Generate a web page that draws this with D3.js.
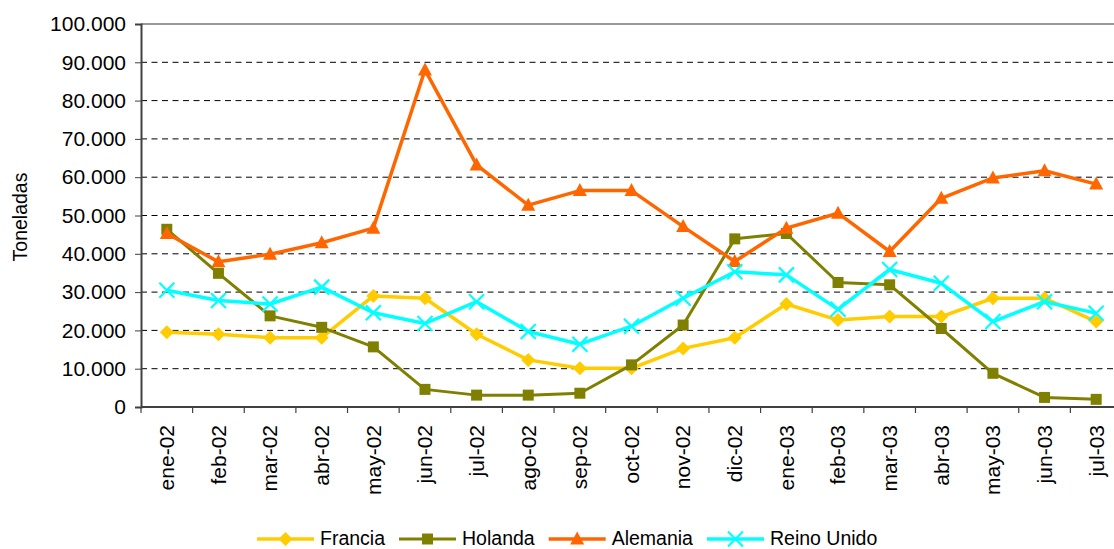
<!DOCTYPE html>
<html>
<head>
<meta charset="utf-8">
<script src="https://cdn.jsdelivr.net/npm/d3@7/dist/d3.min.js"></script>
<style>
  body { margin: 0; background: #fff; }
  svg { display: block; font-family: "Liberation Sans", Arial, sans-serif; }
</style>
</head>
<body>
<div id="chart"></div>
<script>
// data
var months = ["ene-02", "feb-02", "mar-02", "abr-02", "may-02", "jun-02", "jul-02", "ago-02", "sep-02", "oct-02",
              "nov-02", "dic-02", "ene-03", "feb-03", "mar-03", "abr-03", "may-03", "jun-03", "jul-03"];
var francia  = [19500, 19000, 18100, 18100, 29000, 28400, 19000, 12300, 10100, 10100, 15300, 18100, 26900, 22700, 23600, 23600, 28400, 28400, 22300];
var holanda  = [46400, 34900, 23800, 20800, 15700, 4600, 3100, 3100, 3600, 11000, 21400, 43900, 45300, 32500, 31900, 20500, 8800, 2500, 2000];
var alemania = [45300, 37900, 39900, 42900, 46700, 88000, 63200, 52700, 56500, 56500, 47100, 38000, 46700, 50600, 40600, 54500, 59800, 61700, 58200];
var reino    = [30500, 27800, 26900, 31300, 24600, 21800, 27500, 19700, 16400, 21100, 28400, 35300, 34500, 25500, 35900, 32300, 22300, 27500, 24500];
var yTicks = [0, 10000, 20000, 30000, 40000, 50000, 60000, 70000, 80000, 90000, 100000];

var series = [
    {name: "Francia", values: francia, color: "#FFCC00", marker: "diamond", width: 3.5},
    {name: "Holanda", values: holanda, color: "#808000", marker: "square", width: 3},
    {name: "Alemania", values: alemania, color: "#FF6600", marker: "triangle", width: 3.5},
    {name: "Reino Unido", values: reino, color: "#00FFFF", marker: "cross", width: 3.5}
];

var width = 1114,
    height = 549;
var plotLeft = 141, plotTop = 24, plotBottom = 407, plotRight = 1122;

var svg = d3.select("#chart").append("svg")
    .attr("width", width)
    .attr("height", height);

var locale = d3.formatLocale({decimal: ",", thousands: ".", grouping: [3], currency: ["", ""]});
var fmt = locale.format(",d");

var x = d3.scaleBand().domain(months).range([plotLeft, plotRight]);
var y = d3.scaleLinear().domain([0, 100000]).range([plotBottom, plotTop]);
var cx = function(i) { return x(months[i]) + x.bandwidth() / 2; };

// marker shapes
function markerPath(type) {
    if (type == "diamond") return "M0,-7L7,0L0,7L-7,0Z";
    if (type == "square") return "M-5.5,-5.5H5.5V5.5H-5.5Z";
    if (type == "triangle") return "M0,-7.5L7,5.5L-7,5.5Z";
    return "M-7.5,-7.5L7.5,7.5M-7.5,7.5L7.5,-7.5";
}
function drawMarker(g, s, px, py) {
    var p = g.append("path")
        .attr("d", markerPath(s.marker))
        .attr("transform", "translate(" + px + "," + py + ")");
    if (s.marker == "cross") {
        p.attr("fill", "none").attr("stroke", s.color).attr("stroke-width", 2.2);
    } else {
        p.attr("fill", s.color);
    }
}

// gridlines
svg.append("g")
    .selectAll("line")
    .data(yTicks.filter(function(d) { return d > 0 && d < 100000; }))
    .enter().append("line")
    .attr("x1", plotLeft).attr("x2", width)
    .attr("y1", function(d) { return y(d); })
    .attr("y2", function(d) { return y(d); })
    .attr("stroke", "#000")
    .attr("stroke-width", 1)
    .attr("stroke-dasharray", "6,4.5");

// top border
svg.append("line")
    .attr("x1", plotLeft).attr("x2", width)
    .attr("y1", y(100000)).attr("y2", y(100000))
    .attr("stroke", "#999").attr("stroke-width", 2);

// y axis
var yAxis = svg.append("g")
    .attr("transform", "translate(" + plotLeft + ",0)")
    .call(d3.axisLeft(y).tickValues(yTicks).tickSize(6).tickPadding(9).tickFormat(fmt));
yAxis.select(".domain").attr("stroke", "#404040").attr("stroke-width", 2);
yAxis.selectAll(".tick line").attr("stroke", "#404040");
yAxis.selectAll("text").attr("font-size", "21px").attr("fill", "#000")
    .style("font-family", "Liberation Sans, Arial, sans-serif");

// x axis
svg.append("line")
    .attr("x1", plotLeft).attr("x2", width)
    .attr("y1", plotBottom).attr("y2", plotBottom)
    .attr("stroke", "#404040").attr("stroke-width", 2);

svg.append("g")
    .selectAll("line")
    .data(months)
    .enter().append("line")
    .attr("x1", function(d) { return x(d); })
    .attr("x2", function(d) { return x(d); })
    .attr("y1", plotBottom).attr("y2", plotBottom + 6)
    .attr("stroke", "#404040").attr("stroke-width", 1.2);

svg.append("g")
    .selectAll("text")
    .data(months)
    .enter().append("text")
    .attr("transform", function(d) {
        return "translate(" + (x(d) + x.bandwidth() / 2) + "," + 425 + ") rotate(-90)";
    })
    .attr("dy", "0.35em")
    .attr("text-anchor", "end")
    .attr("font-size", "21px")
    .text(function(d) { return d; });

// y axis title
svg.append("text")
    .attr("transform", "translate(27," + 217 + ") rotate(-90)")
    .attr("text-anchor", "middle")
    .attr("font-size", "19.5px")
    .text("Toneladas");

// lines and markers
var line = d3.line()
    .x(function(d, i) { return cx(i); })
    .y(function(d) { return y(d); });

series.forEach(function(s) {
    var g = svg.append("g");
    g.append("path")
        .datum(s.values)
        .attr("d", line)
        .attr("fill", "none")
        .attr("stroke", s.color)
        .attr("stroke-width", s.width)
        .attr("stroke-linejoin", "round");
    s.values.forEach(function(v, i) {
        drawMarker(g, s, cx(i), y(v));
    });
});

// legend
var legend = svg.append("g").attr("id", "legend");
var lx = 257, ly = 539;
series.forEach(function(s) {
    var g = legend.append("g");
    g.append("line")
        .attr("x1", lx).attr("x2", lx + 57)
        .attr("y1", ly).attr("y2", ly)
        .attr("stroke", s.color).attr("stroke-width", s.width);
    drawMarker(g, s, lx + 28.5, ly);
    var t = g.append("text")
        .attr("x", lx + 63)
        .attr("y", ly + 6)
        .attr("font-size", "19.5px")
        .text(s.name);
    lx = lx + 63 + t.node().getComputedTextLength() + 14;
});
</script>
</body>
</html>
